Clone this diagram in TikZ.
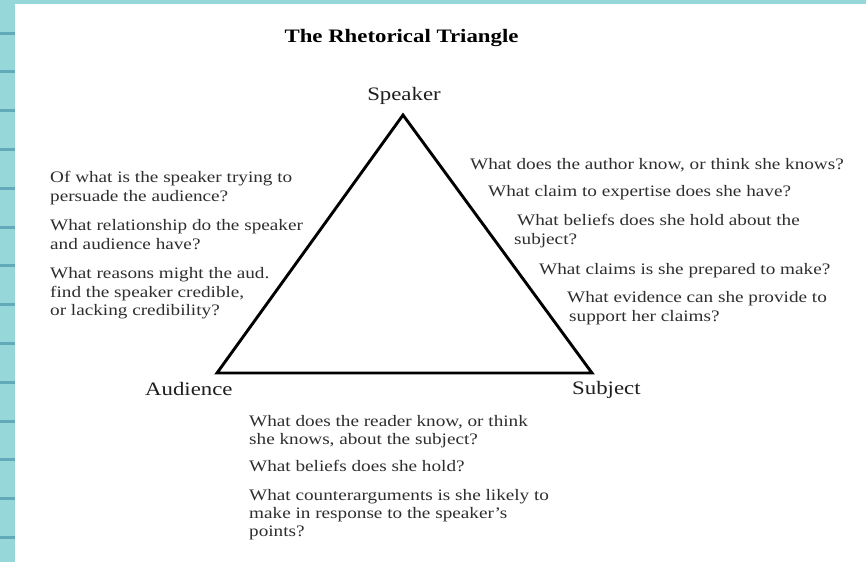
\documentclass[tikz,border=0pt]{standalone}
\usepackage{fontspec}
\setmainfont{Liberation Serif}
\usepackage{graphicx}
\definecolor{tealbg}{HTML}{96D8DA}
\definecolor{tealline}{HTML}{62A9BA}
\definecolor{bodytxt}{HTML}{2E2E2E}
\definecolor{lbltxt}{HTML}{1E1E1E}
\newcommand{\widetext}[1]{\scalebox{1.2}[1]{#1}}
\tikzset{
  body/.style={anchor=base west, inner sep=0pt, text=bodytxt, font=\fontsize{16}{19}\selectfont},
  lbl/.style={inner sep=0pt, text=lbltxt, font=\fontsize{19}{22}\selectfont},
  ttl/.style={inner sep=0pt, anchor=base, text=black, font=\bfseries\fontsize{19}{22}\selectfont},
  tri/.style={line width=2.9pt, line join=miter, draw=black},
}
\begin{document}
\begin{tikzpicture}[x=1pt,y=-1pt]
\useasboundingbox (0,0) rectangle (866,562);
\fill[white] (0,0) rectangle (866,562);
\fill[tealbg] (0,0) rectangle (866,4);
\fill[tealbg] (0,0) rectangle (15,562);
\foreach \k in {0,...,13} {
  \fill[tealline] (0,{33+38.8*\k-1.5}) rectangle (15,{33+38.8*\k+1.5});
}
% title
\node[ttl] (title) at (401.5,42.5) {\widetext{The Rhetorical Triangle}};
% triangle
\coordinate (S) at (403,115);
\coordinate (A) at (217,373);
\coordinate (B) at (592,373);
\draw[tri] (S) -- (A) -- (B) -- cycle;
% vertex labels
\node[lbl, anchor=base] (spk) at (404,100) {\widetext{Speaker}};
\node[lbl, anchor=base west] (aud) at (145,395) {\widetext{Audience}};
\node[lbl, anchor=base west] (sub) at (572,394) {\widetext{Subject}};
% left block
\node[body] (l1) at (50,182) {\widetext{Of what is the speaker trying to}};
\node[body] (l2) at (50,201) {\widetext{persuade the audience?}};
\node[body] (l3) at (50,230) {\widetext{What relationship do the speaker}};
\node[body] (l4) at (50,249) {\widetext{and audience have?}};
\node[body] (l5) at (50,278) {\widetext{What reasons might the aud.}};
\node[body] (l6) at (50,297) {\widetext{find the speaker credible,}};
\node[body] (l7) at (50,315) {\widetext{or lacking credibility?}};
% right block
\node[body] (r1) at (470,169) {\widetext{What does the author know, or think she knows?}};
\node[body] (r2) at (488,196) {\widetext{What claim to expertise does she have?}};
\node[body] (r3) at (517,225) {\widetext{What beliefs does she hold about the}};
\node[body] (r4) at (514,244) {\widetext{subject?}};
\node[body] (r5) at (539,274) {\widetext{What claims is she prepared to make?}};
\node[body] (r6) at (567,302) {\widetext{What evidence can she provide to}};
\node[body] (r7) at (569,321) {\widetext{support her claims?}};
% bottom block
\node[body] (b1) at (249,426) {\widetext{What does the reader know, or think}};
\node[body] (b2) at (249,444) {\widetext{she knows, about the subject?}};
\node[body] (b3) at (249,471) {\widetext{What beliefs does she hold?}};
\node[body] (b4) at (249,500) {\widetext{What counterarguments is she likely to}};
\node[body] (b5) at (249,518) {\widetext{make in response to the speaker’s}};
\node[body] (b6) at (249,536) {\widetext{points?}};
\end{tikzpicture}
\end{document}
